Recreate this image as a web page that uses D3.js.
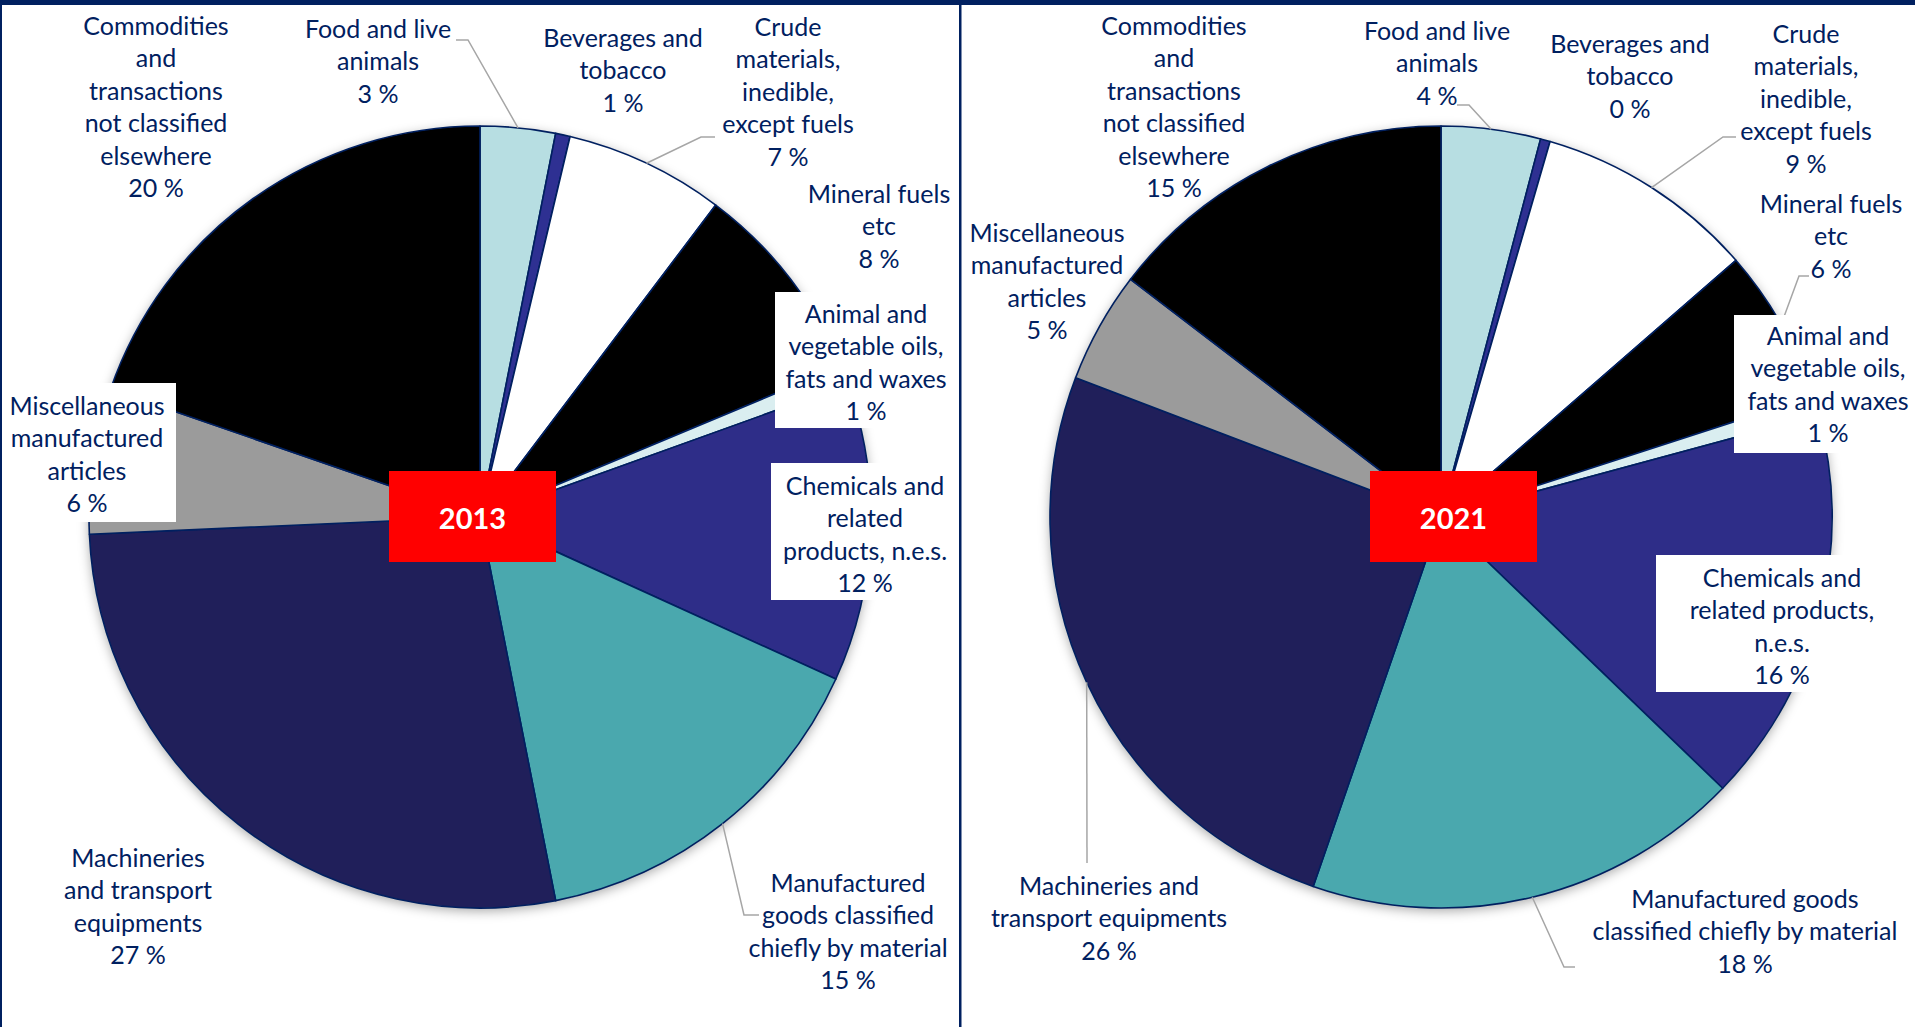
<!DOCTYPE html>
<html>
<head>
<meta charset="utf-8">
<script src="https://cdn.jsdelivr.net/npm/d3@7"></script>
<style>
  html, body { margin: 0; padding: 0; background: #ffffff; }
  svg { display: block; }
  text { font-family: Lato, "Open Sans", sans-serif; }
</style>
</head>
<body>
<svg id="chart" width="1915" height="1027"></svg>
<script>
// Product groups (SITC sections), in clockwise order from 12 o'clock
const categories = [
  "Food and live animals",
  "Beverages and tobacco",
  "Crude materials, inedible, except fuels",
  "Mineral fuels etc",
  "Animal and vegetable oils, fats and waxes",
  "Chemicals and related products, n.e.s.",
  "Manufactured goods classified chiefly by material",
  "Machineries and transport equipments",
  "Miscellaneous manufactured articles",
  "Commodities and transactions not classified elsewhere"
];

// Shares of total trade, percent
const share2013 = [3.1, 0.6, 6.6, 8.4, 0.8, 12.3, 15.1, 27.4, 6.0, 19.7];
const share2021 = [4.1, 0.4, 9.1, 6.4, 0.8, 16.4, 18.1, 25.5, 4.6, 14.6];

const years = ["2013", "2021"];

// Wrapped label text for each group
const labelLines2013 = [
  ["Food and live", "animals"],
  ["Beverages and", "tobacco"],
  ["Crude", "materials,", "inedible,", "except fuels"],
  ["Mineral fuels", "etc"],
  ["Animal and", "vegetable oils,", "fats and waxes"],
  ["Chemicals and", "related", "products, n.e.s."],
  ["Manufactured", "goods classified", "chiefly by material"],
  ["Machineries", "and transport", "equipments"],
  ["Miscellaneous", "manufactured", "articles"],
  ["Commodities", "and", "transactions", "not classified", "elsewhere"]
];
const labelLines2021 = [
  ["Food and live", "animals"],
  ["Beverages and", "tobacco"],
  ["Crude", "materials,", "inedible,", "except fuels"],
  ["Mineral fuels", "etc"],
  ["Animal and", "vegetable oils,", "fats and waxes"],
  ["Chemicals and", "related products,", "n.e.s."],
  ["Manufactured goods", "classified chiefly by material"],
  ["Machineries and", "transport equipments"],
  ["Miscellaneous", "manufactured", "articles"],
  ["Commodities", "and", "transactions", "not classified", "elsewhere"]
];

const sliceColors = [
  "#b7dee2", "#2e3092", "#ffffff", "#000000", "#daeef0",
  "#2e2d88", "#4aa8ae", "#201f5a", "#9b9b9b", "#000000"
];

// ---- layout ----
const W = 1915, H = 1027;
const navy = "#002060";
const R = 391;
const fontSize = 25, lineGap = 32.5;

const panels = [
  {
    cx: 480, cy: 517, values: share2013, lines: labelLines2013,
    badge: { x: 389, y: 471, w: 167, h: 91 },
    labels: [
      { x: 378, y: 28, leader: [[468, 40], [456, 40]] },
      { x: 623, y: 37 },
      { x: 788, y: 26, leader: [[701, 137], [715, 137]] },
      { x: 879, y: 193 },
      { x: 866, y: 313, box: [775, 292, 183, 136] },
      { x: 865, y: 485, box: [771, 463, 187, 137] },
      { x: 848, y: 882, leader: [[744, 915], [759, 915]] },
      { x: 138, y: 857 },
      { x: 87, y: 405, box: [2, 383, 174, 139] },
      { x: 156, y: 25 }
    ]
  },
  {
    cx: 1441, cy: 517, values: share2021, lines: labelLines2021,
    badge: { x: 1370, y: 471, w: 167, h: 91 },
    labels: [
      { x: 1437, y: 30, leader: [[1469, 105], [1457, 105]] },
      { x: 1630, y: 43 },
      { x: 1806, y: 33, leader: [[1723, 137], [1736, 137]] },
      { x: 1831, y: 203, leader: [[1799, 276], [1809, 276]] },
      { x: 1828, y: 335, box: [1734, 315, 181, 138] },
      { x: 1782, y: 577, box: [1656, 555, 225, 137] },
      { x: 1745, y: 898, leader: [[1564, 967], [1575, 967]] },
      { x: 1109, y: 885, leader: [[1087, 863], [1087, 863]] },
      { x: 1047, y: 232 },
      { x: 1174, y: 25 }
    ]
  }
];

const svg = d3.select("#chart");

// soft halo under each pie
const defs = svg.append("defs");
const flt = defs.append("filter").attr("id", "pieShadow")
  .attr("x", "-10%").attr("y", "-10%").attr("width", "120%").attr("height", "120%");
flt.append("feDropShadow")
  .attr("dx", 0).attr("dy", 3).attr("stdDeviation", 6)
  .attr("flood-color", "#000").attr("flood-opacity", 0.35);

svg.append("rect").attr("width", W).attr("height", H).attr("fill", "#ffffff");

const pie = d3.pie().sort(null).value(d => d);
const arc = d3.arc().innerRadius(0).outerRadius(R);
const fmt = v => Math.round(v) + " %";

panels.forEach((p, pi) => {
  const arcs = pie(p.values);
  const g = svg.append("g");

  // shadow disc
  g.append("circle")
    .attr("cx", p.cx).attr("cy", p.cy).attr("r", R)
    .attr("fill", "#ffffff")
    .attr("filter", "url(#pieShadow)");

  // slices
  g.append("g")
    .attr("transform", `translate(${p.cx},${p.cy})`)
    .selectAll("path")
    .data(arcs)
    .join("path")
    .attr("d", arc)
    .attr("fill", (d, i) => sliceColors[i])
    .attr("stroke", navy)
    .attr("stroke-width", 1.6)
    .attr("stroke-linejoin", "round");

  // leader lines: from the slice's mid-arc point to the label
  arcs.forEach((a, i) => {
    const L = p.labels[i];
    if (!L.leader) return;
    const mid = (a.startAngle + a.endAngle) / 2;
    const sx = p.cx + R * Math.sin(mid);
    const sy = p.cy - R * Math.cos(mid);
    const pts = [[sx, sy]].concat(L.leader);
    g.append("path")
      .attr("d", d3.line()(pts))
      .attr("fill", "none")
      .attr("stroke", "#a6a6a6")
      .attr("stroke-width", 1.5);
  });

  // label boxes and texts
  arcs.forEach((a, i) => {
    const L = p.labels[i];
    if (L.box) {
      g.append("rect")
        .attr("x", L.box[0]).attr("y", L.box[1])
        .attr("width", L.box[2]).attr("height", L.box[3])
        .attr("fill", "#ffffff");
    }
    const lines = p.lines[i].concat([fmt(p.values[i])]);
    const t = g.append("text")
      .attr("text-anchor", "middle")
      .attr("fill", navy)
      .attr("font-size", fontSize);
    lines.forEach((ln, k) => {
      t.append("tspan")
        .attr("x", L.x)
        .attr("y", L.y + k * lineGap + fontSize * 0.38)
        .text(ln);
    });
  });

  // year badge
  g.append("rect")
    .attr("x", p.badge.x).attr("y", p.badge.y)
    .attr("width", p.badge.w).attr("height", p.badge.h)
    .attr("fill", "#ff0000");
  g.append("text")
    .attr("x", p.badge.x + p.badge.w / 2)
    .attr("y", p.badge.y + p.badge.h / 2 + 12)
    .attr("text-anchor", "middle")
    .attr("fill", "#ffffff")
    .attr("font-size", 29)
    .attr("font-weight", 700)
    .text(years[pi]);
});

// frame: top bar, left edge and panel divider
svg.append("rect").attr("x", 0).attr("y", 0).attr("width", W).attr("height", 5).attr("fill", navy);
svg.append("rect").attr("x", 0).attr("y", 0).attr("width", 2).attr("height", H).attr("fill", navy);
svg.append("rect").attr("x", 959).attr("y", 0).attr("width", 2.5).attr("height", H).attr("fill", navy);
</script>
</body>
</html>
